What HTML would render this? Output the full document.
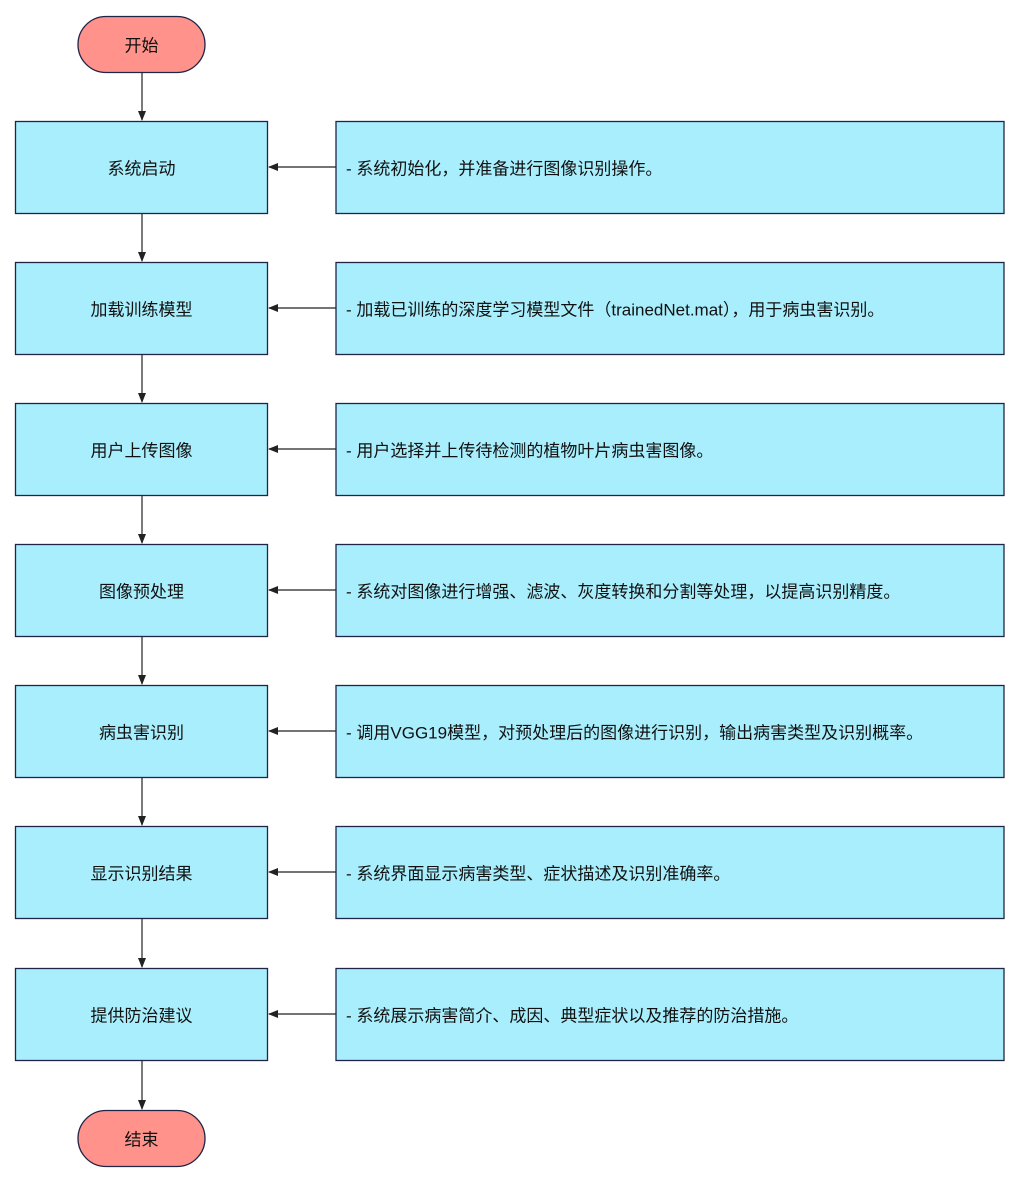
<!DOCTYPE html>
<html><head><meta charset="utf-8"><style>
html,body{margin:0;padding:0;background:#fff;}
svg text{font-family:"Liberation Sans","Noto Sans CJK SC",sans-serif;font-size:17px;fill:#111;dominant-baseline:central;}
</style></head><body>
<svg width="1018" height="1186" viewBox="0 0 1018 1186" xmlns="http://www.w3.org/2000/svg">
<defs><marker id="a" markerWidth="10" markerHeight="10" refX="9" refY="5" orient="auto" markerUnits="userSpaceOnUse"><path d="M0,1 L10,5 L0,9 z" fill="#222"/></marker></defs>
<g stroke="#1e2546" stroke-width="1.3">
<rect x="78" y="16.5" width="127" height="56" rx="28" fill="#FF928A"/>
<rect x="78" y="1110.5" width="127" height="56" rx="28" fill="#FF928A"/>
</g>
<text x="141.5" y="46" text-anchor="middle">开始</text>
<text x="141.5" y="1140" text-anchor="middle">结束</text>
<g stroke="#222" stroke-width="1.2" fill="none">
<line x1="142" y1="73" x2="142" y2="120" marker-end="url(#a)"/>
<line x1="142" y1="214" x2="142" y2="261" marker-end="url(#a)"/>
<line x1="142" y1="355" x2="142" y2="402" marker-end="url(#a)"/>
<line x1="142" y1="496" x2="142" y2="543" marker-end="url(#a)"/>
<line x1="142" y1="637" x2="142" y2="684" marker-end="url(#a)"/>
<line x1="142" y1="778" x2="142" y2="825" marker-end="url(#a)"/>
<line x1="142" y1="919" x2="142" y2="967" marker-end="url(#a)"/>
<line x1="142" y1="1061" x2="142" y2="1109" marker-end="url(#a)"/>
</g>
<g stroke="#1e2546" stroke-width="1.3" fill="#A8EEFC">
<rect x="15.5" y="121.5" width="252" height="92"/><rect x="336" y="121.5" width="668" height="92"/>
<rect x="15.5" y="262.5" width="252" height="92"/><rect x="336" y="262.5" width="668" height="92"/>
<rect x="15.5" y="403.5" width="252" height="92"/><rect x="336" y="403.5" width="668" height="92"/>
<rect x="15.5" y="544.5" width="252" height="92"/><rect x="336" y="544.5" width="668" height="92"/>
<rect x="15.5" y="685.5" width="252" height="92"/><rect x="336" y="685.5" width="668" height="92"/>
<rect x="15.5" y="826.5" width="252" height="92"/><rect x="336" y="826.5" width="668" height="92"/>
<rect x="15.5" y="968.5" width="252" height="92"/><rect x="336" y="968.5" width="668" height="92"/>
</g>
<g stroke="#222" stroke-width="1.2" fill="none">
<line x1="336" y1="167" x2="269" y2="167" marker-end="url(#a)"/>
<line x1="336" y1="308" x2="269" y2="308" marker-end="url(#a)"/>
<line x1="336" y1="449" x2="269" y2="449" marker-end="url(#a)"/>
<line x1="336" y1="590" x2="269" y2="590" marker-end="url(#a)"/>
<line x1="336" y1="731" x2="269" y2="731" marker-end="url(#a)"/>
<line x1="336" y1="872" x2="269" y2="872" marker-end="url(#a)"/>
<line x1="336" y1="1014" x2="269" y2="1014" marker-end="url(#a)"/>
</g>
<g text-anchor="middle">
<text x="141.5" y="169">系统启动</text>
<text x="141.5" y="310">加载训练模型</text>
<text x="141.5" y="451">用户上传图像</text>
<text x="141.5" y="592">图像预处理</text>
<text x="141.5" y="733">病虫害识别</text>
<text x="141.5" y="874">显示识别结果</text>
<text x="141.5" y="1016">提供防治建议</text>
</g>
<g>
<text x="346" y="169">- 系统初始化，并准备进行图像识别操作。</text>
<text x="346" y="310">- 加载已训练的深度学习模型文件（trainedNet.mat），用于病虫害识别。</text>
<text x="346" y="451">- 用户选择并上传待检测的植物叶片病虫害图像。</text>
<text x="346" y="592">- 系统对图像进行增强、滤波、灰度转换和分割等处理，以提高识别精度。</text>
<text x="346" y="733">- 调用VGG19模型，对预处理后的图像进行识别，输出病害类型及识别概率。</text>
<text x="346" y="874">- 系统界面显示病害类型、症状描述及识别准确率。</text>
<text x="346" y="1016">- 系统展示病害简介、成因、典型症状以及推荐的防治措施。</text>
</g>
</svg>
</body></html>
